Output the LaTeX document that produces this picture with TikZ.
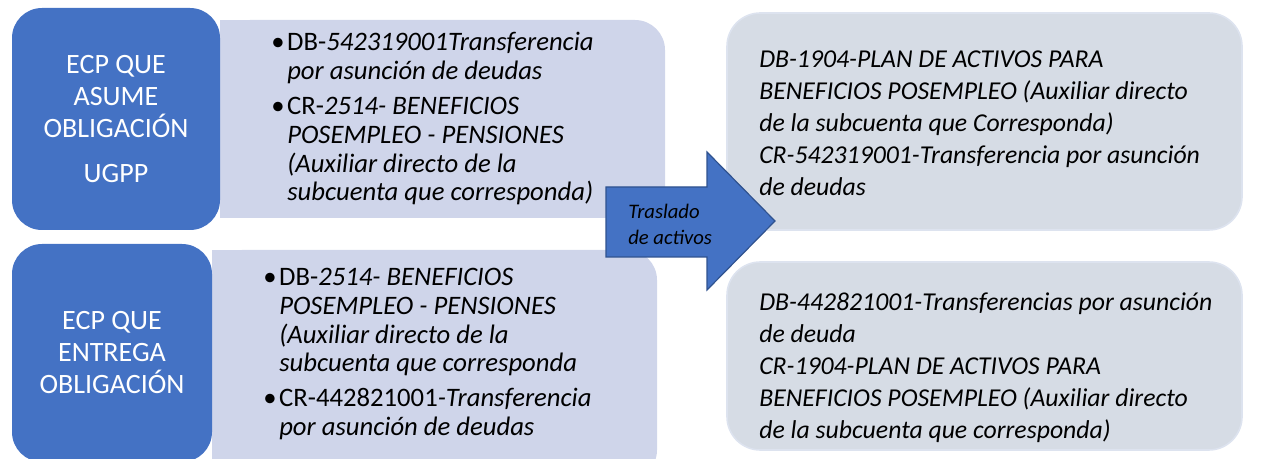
\documentclass[tikz,border=0pt]{standalone}
\usepackage{fontspec}
\setmainfont{Carlito}
\definecolor{ecpblue}{HTML}{4472C4}
\definecolor{ecpedge}{HTML}{2F528F}
\definecolor{lavfill}{HTML}{CFD5EA}
\definecolor{grayfill}{HTML}{D6DCE5}
\definecolor{grayedge}{HTML}{DDE3EF}

\begin{document}
\begin{tikzpicture}[x=0.75pt,y=0.75pt,yscale=-1,xscale=1,
  ecpbox/.style={fill=ecpblue, rounded corners=22.5pt, inner sep=0pt, align=center, text=white, font=\fontsize{21}{24}\selectfont},
  listtext/.style={anchor=base west, inner sep=0pt, align=left, font=\fontsize{20}{21.5}\selectfont},
  cuentatext/.style={anchor=base west, inner sep=0pt, align=left, font=\itshape\fontsize{19.3}{24}\selectfont}]
\useasboundingbox (0,0) rectangle (1262,459);

%Shape: Lavender list boxes
\fill[lavfill, rounded corners=22.5pt] (220,20) rectangle (665,218) ;
\fill[lavfill] (220,20) rectangle (400,218) ;
\fill[lavfill, rounded corners=22.5pt] (212,250) rectangle (657,480) ;
\fill[lavfill] (212,250) rectangle (400,480) ;

%Shape: Blue boxes
\node (asume) [ecpbox, minimum width=156pt, minimum height=166.5pt] at (116,119) {ECP QUE\\ASUME\\OBLIGACIÓN\\[9.75pt]UGPP};
\node (entrega) [ecpbox, minimum width=150pt, minimum height=163.5pt] at (112,353) {ECP QUE\\ENTREGA\\OBLIGACIÓN};

%Shape: Gray result boxes
\draw[grayedge, fill=grayfill, line width=1.2pt, rounded corners=25pt] (727,13) rectangle (1242,230) ;
\draw[grayedge, fill=grayfill, line width=1.2pt, rounded corners=25pt] (727,262) rectangle (1242,450) ;

%Shape: Right Arrow
\draw[ecpedge, fill=ecpblue, line width=0.9pt] (606,187) -- (707,187) -- (707,152) -- (775,221) -- (707,290) -- (707,257) -- (606,257) -- cycle ;

% Text Node (base = last line)
\node (traslado) [anchor=base west, inner sep=0pt, align=left, font=\itshape\fontsize{15.5}{20}\selectfont] at (628,245) {Traslado\\de activos};

% Text Node
\node (listaA) [listtext] at (287,201) {\llap{\textbullet\hspace{2pt}}DB-\textit{542319001Transferencia}\\
\textit{por asunción de deudas}\\[5pt]
\llap{\textbullet\hspace{2pt}}CR-\textit{2514- BENEFICIOS}\\
\textit{POSEMPLEO - PENSIONES}\\
\textit{(Auxiliar directo de la}\\
\textit{subcuenta que corresponda)}};
% Text Node
\node (listaB) [listtext] at (279,435) {\llap{\textbullet\hspace{2pt}}DB-\textit{2514- BENEFICIOS}\\
\textit{POSEMPLEO - PENSIONES}\\
\textit{(Auxiliar directo de la}\\
\textit{subcuenta que corresponda}\\[4.5pt]
\llap{\textbullet\hspace{2pt}}CR-442821001\textit{-Transferencia}\\
\textit{por asunción de deudas}};

% Text Node
\node (cuentaA) [cuentatext] at (759,196) {DB-1904-PLAN DE ACTIVOS PARA\\
BENEFICIOS POSEMPLEO (Auxiliar directo\\
de la subcuenta que Corresponda)\\
CR-542319001-Transferencia por asunción\\
de deudas};
% Text Node
\node (cuentaB) [cuentatext] at (759,438) {DB-442821001-Transferencias por asunción\\
de deuda\\
CR-1904-PLAN DE ACTIVOS PARA\\
BENEFICIOS POSEMPLEO (Auxiliar directo\\
de la subcuenta que corresponda)};

\end{tikzpicture}
\end{document}
